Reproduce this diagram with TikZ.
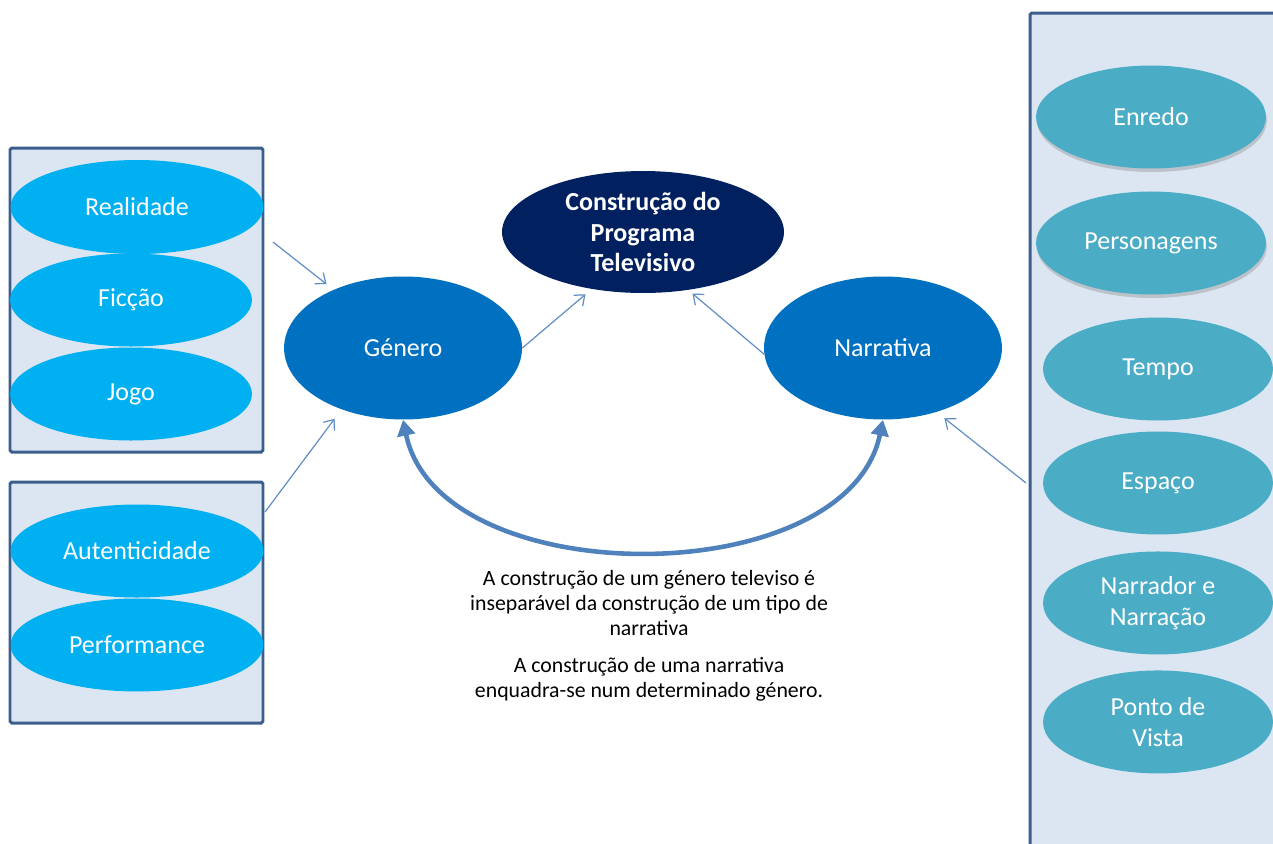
\documentclass[tikz,border=0pt]{standalone}
\usepackage{fontspec}
\setmainfont{Carlito}
\usetikzlibrary{arrows.meta,positioning,shapes.geometric,shadows}
\definecolor{boxfill}{HTML}{DCE6F2}
\definecolor{boxline}{HTML}{3B5E8C}
\definecolor{skyblue}{HTML}{00B0F0}
\definecolor{tealblue}{HTML}{4BACC6}
\definecolor{midblue}{HTML}{0070C0}
\definecolor{progblue}{HTML}{002060}
\definecolor{linkblue}{HTML}{4F81BD}
\tikzset{
  blob/.style={
    shape=ellipse,
    inner sep=0pt,
    text=white,
    align=center,
    font=\fontsize{14.8}{17.5}\selectfont
  },
  sky blob/.style={
    blob,
    fill=skyblue,
    minimum width=4.84cm,
    minimum height=1.86cm
  },
  teal blob/.style={
    blob,
    fill=tealblue,
    minimum width=4.6cm,
    minimum height=2.06cm
  },
  big blob/.style={
    blob,
    fill=midblue,
    minimum width=4.76cm,
    minimum height=2.86cm
  },
  soft shadow/.style={
    drop shadow={shadow xshift=0.5pt,shadow yshift=-2pt,opacity=0.35}
  },
  side box/.style={
    draw=boxline,
    line width=1.7pt,
    fill=boxfill,
    rounded corners=1pt
  },
  thin link/.style={
    -{Straight Barb[length=5pt,width=8pt]},
    color=linkblue!90,
    line width=0.7pt
  }
}

\begin{document}
\begin{tikzpicture}[%
            x=0.02cm, y=-0.02cm,
            on grid,
            node distance=2.32cm and 4.8cm]
    \useasboundingbox (0,0) rectangle (1273,843);
    \clip (0,0) rectangle (1273,843);
    % boxes
    \draw[side box] (10,148) rectangle (263,452);
    \draw[side box] (10,482) rectangle (263,723);
    \draw[side box] (1030,13) rectangle (1300,880);
    % centre
    \node[blob, fill=progblue, font=\fontsize{14.8}{17.3}\selectfont\bfseries,
          minimum width=5.64cm, minimum height=2.44cm] (prog) at (643,232)
          {Construção do\\Programa\\Televisivo};
    \node[big blob] (gen) [below left=of prog] {Género};
    \node[big blob] (nar) [right=9.6cm of gen] {Narrativa};
    % left side
    \node[sky blob, minimum width=5.06cm, minimum height=1.88cm] (real) at (137,207) {Realidade};
    \node[sky blob] (fic) at (131,300) {Ficção};
    \node[sky blob] (jogo) at (131,394) {Jogo};
    \node[sky blob, minimum width=5.06cm] (aut) at (137,551) {Autenticidade};
    \node[sky blob, minimum width=5.06cm] (perf) [below=1.88cm of aut] {Performance};
    % right side
    \node[teal blob, soft shadow] (enredo) at (1151,117) {Enredo};
    \node[teal blob, soft shadow] (pers) [below=2.52cm of enredo] {Personagens};
    \node[teal blob] (tempo) at (1158,369) {Tempo};
    \node[teal blob] (espaco) [below=2.28cm of tempo] {Espaço};
    \node[teal blob] (narr) [below=2.4cm of espaco] {Narrador e\\Narração};
    \node[teal blob] (ponto) [below=2.38cm of narr] {Ponto de\\Vista};
    % notes
    \node[align=center, font=\fontsize{12.4}{14.2}\selectfont] (note1) at (649,603)
          {A construção de um género televiso é\\inseparável da construção de um tipo de\\narrativa};
    \node[align=center, font=\fontsize{12.4}{14.2}\selectfont] (note2) at (649,679)
          {A construção de uma narrativa\\enquadra-se num determinado género.};
    % links
    \coordinate (realside) at (273,242);
    \coordinate (autside) at (265,512);
    \coordinate (rightside) at (1026,483);
    \path[thin link]
    (realside) edge[shorten >=5pt] (gen.140)
    (autside) edge[shorten >=6.5pt] (gen.225)
    (gen.east) edge[shorten >=4.5pt] (prog.228)
    (nar.183) edge[shorten >=3pt] (prog.308)
    (rightside) edge[shorten >=5.5pt] (nar.310);
    \draw[line width=2.6pt, color=linkblue,
          {Triangle[length=9pt,width=10pt]}-{Triangle[length=9pt,width=10pt]}]
    (gen.south) .. controls +(36,174) and +(-36,174) .. (nar.south);
\end{tikzpicture}
\end{document}
